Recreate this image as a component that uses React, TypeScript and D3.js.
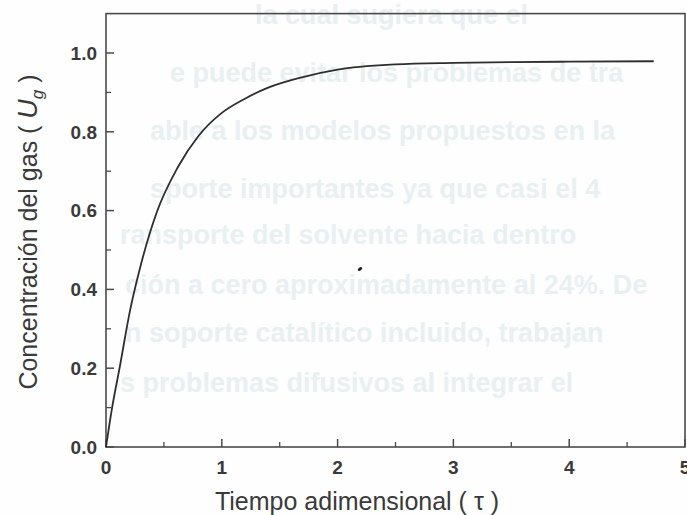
import React from "react";
import * as d3 from "d3";

const tau = [0, 0.05, 0.12, 0.21, 0.29, 0.44, 0.62, 0.8, 1.0, 1.2, 1.4, 1.7, 2.0, 2.5, 3.0, 3.5, 4.0, 4.73];
const ug = [0, 0.095, 0.205, 0.35, 0.45, 0.597, 0.71, 0.79, 0.848, 0.884, 0.912, 0.939, 0.958, 0.971, 0.975, 0.977, 0.978, 0.979];

const xTicks = [0, 1, 2, 3, 4, 5];
const xTickLabels = ["0", "1", "2", "3", "4", "5"];
const xMinor = [0.5, 1.5, 2.5, 3.5, 4.5];
const yTicks = [0, 0.2, 0.4, 0.6, 0.8, 1.0];
const yTickLabels = ["0.0", "0.2", "0.4", "0.6", "0.8", "1.0"];
const yMinor = [0.1, 0.3, 0.5, 0.7, 0.9];

const xTitle = "Tiempo adimensional ( τ )";
const yTitleMain = "Concentración del gas ( ";

// faint show-through text from the reverse page of the scan
const ghostLines = [
  "la cual sugiera que el",
  "e puede evitar los problemas de tra",
  "able a los modelos propuestos en la",
  "sporte importantes ya que casi el 4",
  "ransporte del solvente hacia dentro",
  "ción a cero aproximadamente al 24%. De",
  "n soporte catalítico incluido, trabajan",
  "s problemas difusivos al integrar el",
];
const ghostY = [24, 82, 140, 198, 244, 294, 342, 392];
const ghostX0 = [255, 170, 150, 150, 120, 125, 125, 120];

export default function App() {
  const W = 687, H = 515;
  const x = d3.scaleLinear().domain([0, 5]).range([106, 685]);
  const y = d3.scaleLinear().domain([0, 1.1]).range([447, 13.6]);
  const pts: [number, number][] = tau.map((t, i) => [t, ug[i]]);
  const line = d3
    .line<[number, number]>()
    .x((d) => x(d[0]))
    .y((d) => y(d[1]))
    .curve(d3.curveMonotoneX);

  const axisColor = "#4a4a4a";
  const textColor = "#3a3a3a";
  const font = "'Liberation Sans', Arial, Helvetica, sans-serif";

  return (
    <svg
      width={W}
      height={H}
      style={{ position: "absolute", left: 0, top: 0, background: "#fefefe" }}
    >
      <rect x={0} y={0} width={W} height={H} fill="#fefefe" />
      <g fill="#e9f0f2" fontFamily={font} fontWeight="bold" fontSize={27}>
        {ghostLines.map((s, i) => (
          <text key={i} x={ghostX0[i]} y={ghostY[i]}>
            {s}
          </text>
        ))}
      </g>

      {/* frame */}
      <rect
        x={x(0)}
        y={y(1.1)}
        width={x(5) - x(0)}
        height={y(0) - y(1.1)}
        fill="none"
        stroke={axisColor}
        strokeWidth={1.6}
      />

      {/* y ticks */}
      {yTicks.map((v) => (
        <line key={"yt" + v} x1={x(0)} x2={x(0) + 8} y1={y(v)} y2={y(v)} stroke={axisColor} strokeWidth={1.5} />
      ))}
      {yMinor.map((v) => (
        <line key={"ym" + v} x1={x(0)} x2={x(0) + 5} y1={y(v)} y2={y(v)} stroke={axisColor} strokeWidth={1.3} />
      ))}
      {/* x ticks */}
      {xTicks.map((v) => (
        <line key={"xt" + v} x1={x(v)} x2={x(v)} y1={y(0)} y2={y(0) - 8} stroke={axisColor} strokeWidth={1.5} />
      ))}
      {xMinor.map((v) => (
        <line key={"xm" + v} x1={x(v)} x2={x(v)} y1={y(0)} y2={y(0) - 5} stroke={axisColor} strokeWidth={1.3} />
      ))}

      {/* tick labels */}
      <g fill={textColor} fontFamily={font} fontWeight="bold" fontSize={19}>
        {yTicks.map((v, i) => (
          <text key={"yl" + v} x={97} y={y(v)} dy="0.36em" textAnchor="end">
            {yTickLabels[i]}
          </text>
        ))}
        {xTicks.map((v, i) => (
          <text key={"xl" + v} x={x(v)} y={474} textAnchor="middle">
            {xTickLabels[i]}
          </text>
        ))}
      </g>

      {/* curve */}
      <path d={line(pts) || ""} fill="none" stroke="#2e2e2e" strokeWidth={1.8} />

      {/* speck on the scan */}
      <ellipse cx={360} cy={269} rx={2.5} ry={1.6} fill="#222" transform="rotate(-35 360 269)" />

      {/* axis titles */}
      <text x={357} y={510} textAnchor="middle" fill={textColor} fontFamily={font} fontSize={25}>
        {xTitle}
      </text>
      <text
        transform="translate(37,232) rotate(-90)"
        textAnchor="middle"
        fill={textColor}
        fontFamily={font}
        fontSize={25}
      >
        {yTitleMain}
        <tspan fontStyle="italic" fontSize={27}>U</tspan>
        <tspan fontStyle="italic" fontSize={17} dy={6}>g</tspan>
        <tspan dy={-6}> )</tspan>
      </text>
    </svg>
  );
}
